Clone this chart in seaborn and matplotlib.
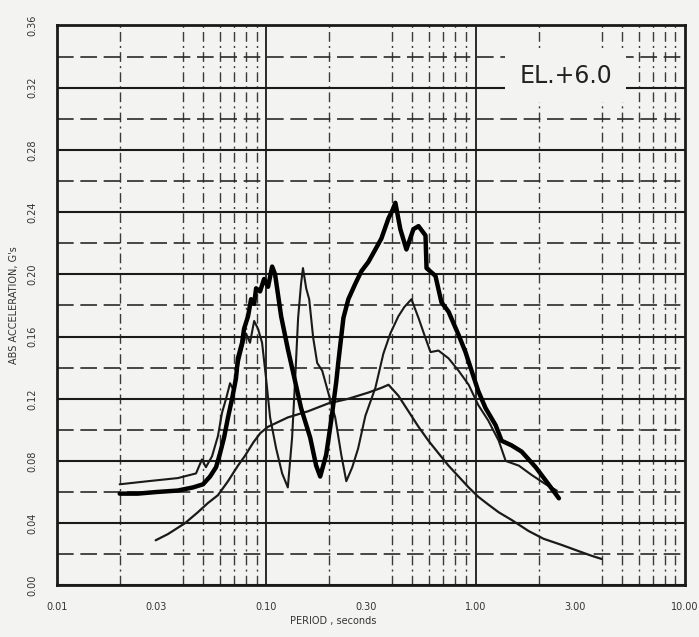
import matplotlib
matplotlib.use("Agg")
import matplotlib.pyplot as plt
import matplotlib.ticker as mticker
import numpy as np
import pandas as pd
import seaborn as sns

# heavy (thick) spectrum
heavy_period = [0.0200, 0.0244, 0.0297, 0.0379, 0.0448, 0.0500, 0.0540, 0.0577, 0.0603, 0.0630,
                0.0658, 0.0688, 0.0718, 0.0734, 0.0768, 0.0785, 0.0820, 0.0848, 0.0877, 0.0896,
                0.0936, 0.0978, 0.1022, 0.1069, 0.1104, 0.1180, 0.1270, 0.1377, 0.1469, 0.1624,
                0.1734, 0.1813, 0.1936, 0.2046, 0.2163, 0.2210, 0.2340, 0.2470, 0.2667, 0.2851,
                0.3080, 0.3324, 0.3551, 0.3840, 0.4007, 0.4142, 0.4375, 0.4677, 0.5050, 0.5340,
                0.5768, 0.5834, 0.6435, 0.6874, 0.7430, 0.8300, 0.8954, 0.9573, 1.030, 1.116,
                1.247, 1.332, 1.487, 1.660, 1.937, 2.230, 2.500]
heavy_accel = [0.059, 0.059, 0.060, 0.061, 0.063, 0.065, 0.070, 0.076, 0.085, 0.095,
               0.108, 0.120, 0.133, 0.146, 0.156, 0.165, 0.173, 0.184, 0.181, 0.191,
               0.189, 0.197, 0.192, 0.205, 0.200, 0.173, 0.152, 0.131, 0.114, 0.095,
               0.077, 0.070, 0.084, 0.106, 0.131, 0.143, 0.172, 0.184, 0.194, 0.202,
               0.208, 0.216, 0.223, 0.236, 0.241, 0.246, 0.229, 0.216, 0.229, 0.231,
               0.225, 0.204, 0.199, 0.182, 0.176, 0.161, 0.150, 0.138, 0.125, 0.114,
               0.103, 0.093, 0.090, 0.086, 0.076, 0.065, 0.056]

# thin spectrum
thin_period = [0.0200, 0.0273, 0.0379, 0.0463, 0.0494, 0.0516, 0.0552, 0.0589, 0.0616, 0.0644,
               0.0673, 0.0703, 0.0734, 0.0768, 0.0802, 0.0838, 0.0877, 0.0915, 0.0957, 0.1000,
               0.1045, 0.1117, 0.1193, 0.1270, 0.1331, 0.1377, 0.1422, 0.1469, 0.1500, 0.1554,
               0.1606, 0.1679, 0.1754, 0.1854, 0.1980, 0.2138, 0.2285, 0.2415, 0.2579, 0.2750,
               0.2978, 0.3324, 0.3630, 0.3920, 0.4280, 0.4571, 0.4943, 0.5340, 0.5768, 0.6095,
               0.6650, 0.7430, 0.8300, 0.9270, 1.030, 1.150, 1.290, 1.393, 1.610, 1.853,
               2.163, 2.443]
thin_accel = [0.065, 0.067, 0.069, 0.072, 0.081, 0.076, 0.083, 0.096, 0.111, 0.120,
              0.130, 0.125, 0.141, 0.152, 0.162, 0.156, 0.170, 0.165, 0.156, 0.133,
              0.108, 0.088, 0.072, 0.063, 0.095, 0.133, 0.172, 0.194, 0.204, 0.191,
              0.184, 0.159, 0.143, 0.138, 0.124, 0.108, 0.084, 0.067, 0.076, 0.088,
              0.109, 0.127, 0.149, 0.162, 0.173, 0.179, 0.184, 0.172, 0.159, 0.150,
              0.151, 0.146, 0.138, 0.129, 0.116, 0.106, 0.093, 0.080, 0.077, 0.071,
              0.065, 0.061]

# smooth design curve
smooth_period = [0.0297, 0.0340, 0.0410, 0.0472, 0.0528, 0.0589, 0.0658, 0.0734, 0.0790, 0.0870,
                 0.0940, 0.1022, 0.1140, 0.1270, 0.1590, 0.1980, 0.2470, 0.3080, 0.3550, 0.3840,
                 0.4280, 0.4780, 0.5340, 0.5960, 0.6650, 0.7430, 0.8300, 0.9270, 1.030, 1.150,
                 1.290, 1.490, 1.790, 2.110, 2.580, 3.110, 3.590, 4.000]
smooth_accel = [0.029, 0.033, 0.040, 0.047, 0.053, 0.058, 0.067, 0.077, 0.083, 0.092,
                0.098, 0.102, 0.105, 0.108, 0.112, 0.117, 0.120, 0.124, 0.127, 0.129,
                0.122, 0.112, 0.102, 0.093, 0.085, 0.077, 0.070, 0.063, 0.057, 0.052,
                0.047, 0.042, 0.035, 0.030, 0.026, 0.022, 0.019, 0.017]

x_ticks = [0.01, 0.03, 0.10, 0.30, 1.00, 3.00, 10.00]
x_tick_labels = ["0.01", "0.03", "0.10", "0.30", "1.00", "3.00", "10.00"]
y_ticks = [0.00, 0.04, 0.08, 0.12, 0.16, 0.20, 0.24, 0.28, 0.32, 0.36]

paper = "#f3f3f1"
ink = "#1a1a1a"

sns.set_style("white")
plt.rcParams["font.family"] = ["DejaVu Sans"]

fig = plt.figure(figsize=(6.99, 6.37), dpi=100, facecolor=paper)
ax = fig.add_axes([0.081, 0.081, 0.899, 0.879])
ax.set_facecolor(paper)

heavy = pd.DataFrame({"period": heavy_period, "accel": heavy_accel})
thin = pd.DataFrame({"period": thin_period, "accel": thin_accel})
smooth = pd.DataFrame({"period": smooth_period, "accel": smooth_accel})

sns.lineplot(data=smooth, x="period", y="accel", ax=ax, color=ink, lw=1.6,
             estimator=None, sort=False, zorder=4)
sns.lineplot(data=thin, x="period", y="accel", ax=ax, color=ink, lw=1.5,
             estimator=None, sort=False, zorder=5)
sns.lineplot(data=heavy, x="period", y="accel", ax=ax, color="black", lw=3.2,
             estimator=None, sort=False, zorder=6)

ax.set_xscale("log")
ax.set_xlim(0.01, 10)
ax.set_ylim(0, 0.36)

# grid like the printed log paper
ax.xaxis.set_major_locator(mticker.FixedLocator(x_ticks))
ax.xaxis.set_major_formatter(mticker.FixedFormatter(x_tick_labels))
ax.xaxis.set_minor_locator(mticker.LogLocator(base=10, subs=np.arange(1, 10)))
ax.xaxis.set_minor_formatter(mticker.NullFormatter())
ax.yaxis.set_major_locator(mticker.FixedLocator(y_ticks))
ax.yaxis.set_major_formatter(mticker.FormatStrFormatter("%.2f"))
ax.yaxis.set_minor_locator(mticker.MultipleLocator(0.02))

ax.grid(False)
ax.grid(which="minor", axis="x", color="#3a3a3a", lw=1.0, ls=(0, (7, 3, 1.5, 3)), zorder=1)
ax.grid(which="major", axis="y", color=ink, lw=1.5, zorder=1)
ax.grid(which="minor", axis="y", color="#2a2a2a", lw=1.2, ls=(0, (10, 4)), zorder=1)
for d in [0.1, 1.0]:
    ax.axvline(d, color=ink, lw=1.3, zorder=1)

ax.tick_params(which="both", length=0)
ax.tick_params(axis="x", pad=12, labelsize=7, labelcolor="#333333")
ax.tick_params(axis="y", pad=14, labelsize=7, labelcolor="#333333")
for lbl in ax.get_yticklabels():
    lbl.set_rotation(90)
    lbl.set_va("center")

for s in ax.spines.values():
    s.set_color(ink)
    s.set_linewidth(2.0)

ax.set_xlabel("PERIOD , seconds", fontsize=7, color="#333333", labelpad=4)
ax.xaxis.set_label_coords(0.44, -0.055)
ax.set_ylabel("ABS ACCELERATION, G's", fontsize=7, color="#333333", labelpad=6)

ax.text(0.81, 0.91, "EL.+6.0", transform=ax.transAxes, fontsize=17,
        ha="center", va="center", color="#222222", zorder=8,
        bbox=dict(boxstyle="square,pad=0.6", facecolor=paper, edgecolor="none"))

plt.savefig("out.png", dpi=100, facecolor=paper)
plt.close(fig)
